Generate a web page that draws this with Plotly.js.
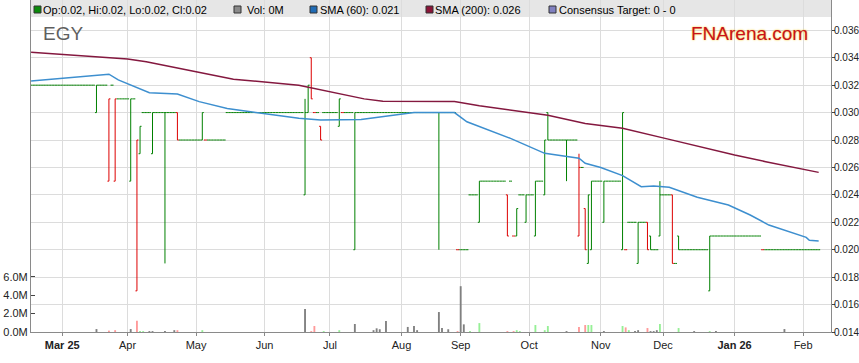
<!DOCTYPE html>
<html>
<head>
<meta charset="utf-8">
<script src="https://cdn.plot.ly/plotly-3.0.1.min.js"></script>
<style>html,body{margin:0;padding:0;background:#fff;}#chart{width:859px;height:363px;}</style>
</head>
<body>
<div id="chart"></div>
<script>
// Trading-day categories (weekdays as listed by the source)
const dates = [
 '2025-02-17','2025-02-18','2025-02-19','2025-02-20','2025-02-21','2025-02-24','2025-02-25','2025-02-26','2025-02-27','2025-02-28',
 '2025-03-03','2025-03-04','2025-03-05','2025-03-06','2025-03-07','2025-03-10','2025-03-11','2025-03-12','2025-03-13','2025-03-14',
 '2025-03-17','2025-03-18','2025-03-19','2025-03-20','2025-03-21','2025-03-24','2025-03-25','2025-03-26','2025-03-27','2025-03-28',
 '2025-03-31','2025-04-01','2025-04-02','2025-04-03','2025-04-04','2025-04-07','2025-04-08','2025-04-09','2025-04-10','2025-04-11',
 '2025-04-14','2025-04-15','2025-04-16','2025-04-17','2025-04-18','2025-04-21','2025-04-22','2025-04-23','2025-04-24','2025-04-25',
 '2025-04-28','2025-04-29','2025-04-30','2025-05-01','2025-05-02','2025-05-05','2025-05-06','2025-05-07','2025-05-08','2025-05-09',
 '2025-05-12','2025-05-13','2025-05-14','2025-05-15','2025-05-16','2025-05-19','2025-05-20','2025-05-21','2025-05-22','2025-05-23',
 '2025-05-26','2025-05-27','2025-05-28','2025-05-29','2025-05-30','2025-06-02','2025-06-03','2025-06-04','2025-06-05','2025-06-06',
 '2025-06-09','2025-06-10','2025-06-11','2025-06-12','2025-06-13','2025-06-16','2025-06-17','2025-06-18','2025-06-19','2025-06-20',
 '2025-06-23','2025-06-24','2025-06-25','2025-06-26','2025-06-27','2025-06-30','2025-07-01','2025-07-02','2025-07-03','2025-07-04',
 '2025-07-07','2025-07-08','2025-07-09','2025-07-10','2025-07-11','2025-07-14','2025-07-15','2025-07-16','2025-07-17','2025-07-18',
 '2025-07-21','2025-07-22','2025-07-23','2025-07-24','2025-07-25','2025-07-28','2025-07-29','2025-07-30','2025-07-31','2025-08-01',
 '2025-08-04','2025-08-05','2025-08-06','2025-08-07','2025-08-08','2025-08-11','2025-08-12','2025-08-13','2025-08-14','2025-08-15',
 '2025-08-18','2025-08-19','2025-08-20','2025-08-21','2025-08-22','2025-08-27','2025-08-28','2025-08-29','2025-09-01','2025-09-02',
 '2025-09-03','2025-09-04','2025-09-05','2025-09-08','2025-09-09','2025-09-10','2025-09-11','2025-09-12','2025-09-15','2025-09-16',
 '2025-09-17','2025-09-18','2025-09-19','2025-09-22','2025-09-23','2025-09-24','2025-09-25','2025-09-26','2025-09-29','2025-09-30',
 '2025-10-01','2025-10-02','2025-10-03','2025-10-06','2025-10-07','2025-10-08','2025-10-09','2025-10-10','2025-10-13','2025-10-14',
 '2025-10-15','2025-10-16','2025-10-17','2025-10-20','2025-10-21','2025-10-22','2025-10-23','2025-10-24','2025-10-27','2025-10-28',
 '2025-10-29','2025-10-30','2025-10-31','2025-11-03','2025-11-04','2025-11-05','2025-11-06','2025-11-07','2025-11-10','2025-11-11',
 '2025-11-12','2025-11-13','2025-11-14','2025-11-17','2025-11-18','2025-11-19','2025-11-20','2025-11-21','2025-11-24','2025-11-25',
 '2025-11-26','2025-11-27','2025-11-28','2025-12-01','2025-12-02','2025-12-03','2025-12-04','2025-12-05','2025-12-08','2025-12-09',
 '2025-12-10','2025-12-11','2025-12-12','2025-12-15','2025-12-16','2025-12-17','2025-12-18','2025-12-19','2025-12-22','2025-12-23',
 '2025-12-24','2025-12-25','2025-12-26','2025-12-29','2025-12-30','2025-12-31','2026-01-01','2026-01-02','2026-01-05','2026-01-06',
 '2026-01-07','2026-01-08','2026-01-09','2026-01-12','2026-01-13','2026-01-14','2026-01-15','2026-01-16','2026-01-19','2026-01-20',
 '2026-01-21','2026-01-22','2026-01-23','2026-01-26','2026-01-27','2026-01-28','2026-01-29','2026-01-30','2026-02-02','2026-02-03',
 '2026-02-04','2026-02-05','2026-02-06','2026-02-09'
];

const open = [
 .032,.032,.032,.032,.032,.032,.032,.032,.032,.032,
 .032,.032,.032,.032,.032,.032,.032,.032,.032,.032,
 .032,.030,.032,.032,.032,.025,.032,.025,.031,.031,
 .031,.031,.025,.031,.017,.027,.030,.030,.030,.027,
 .030,.030,.030,.030,.030,.030,.030,.030,.028,.028,
 .028,.028,.028,.028,.028,.028,.028,.028,.028,.028,
 .028,.028,.028,.030,.030,.030,.030,.030,.030,.030,
 .030,.030,.030,.030,.030,.030,.030,.030,.030,.030,
 .030,.030,.030,.030,.030,.030,.030,.030,.024,.030,
 .034,.030,.030,.029,.030,.030,.030,.030,.030,.029,
 .030,.030,.030,.030,.020,.030,.030,.030,.030,.030,
 .030,.030,.030,.030,.030,.030,.030,.030,.030,.030,
 .030,.030,.030,.030,.030,.030,.030,.030,.030,.030,
 .030,.030,.030,.030,.030,.030,.030,.020,.020,.020,
 .020,.024,.024,.024,.022,.025,.025,.025,.025,.025,
 .025,.025,.025,.024,.025,.021,.021,.024,.024,.022,
 .024,.024,.021,.025,.025,.024,.030,.028,.028,.028,
 .028,.028,.028,.028,.028,.028,.021,.026,.023,.019,
 .020,.025,.025,.025,.022,.025,.025,.025,.025,.025,
 .020,.020,.022,.022,.022,.019,.022,.022,.022,.021,
 .020,.020,.021,.024,.024,.024,.024,.019,.021,.020,
 .020,.020,.020,.020,.020,.020,.020,.020,.017,.021,
 .021,.021,.021,.021,.021,.021,.021,.021,.021,.021,
 .021,.021,.021,.021,.021,.020,.020,.020,.020,.020,
 .020,.020,.020,.020,.020,.020,.020,.020,.020,.020,
 .020,.020,.020,.020
];
const high = [
 .032,.032,.032,.032,.032,.032,.032,.032,.032,.032,
 .032,.032,.032,.032,.032,.032,.032,.032,.032,.032,
 .032,.032,.032,.032,.032,.031,.032,.031,.031,.031,
 .031,.031,.031,.031,.028,.029,.030,.030,.030,.030,
 .030,.030,.030,.030,.030,.030,.030,.030,.028,.028,
 .028,.028,.028,.028,.028,.030,.028,.028,.028,.028,
 .028,.028,.028,.030,.030,.030,.030,.030,.030,.030,
 .030,.030,.030,.030,.030,.030,.030,.030,.030,.030,
 .030,.030,.030,.030,.030,.030,.030,.030,.031,.032,
 .034,.030,.030,.029,.030,.030,.030,.030,.030,.031,
 .030,.030,.030,.030,.030,.030,.030,.030,.030,.030,
 .030,.030,.030,.030,.030,.030,.030,.030,.030,.030,
 .030,.030,.030,.030,.030,.030,.030,.030,.030,.030,
 .030,.030,.030,.030,.030,.030,.030,.020,.020,.020,
 .020,.024,.024,.024,.025,.025,.025,.025,.025,.025,
 .025,.025,.025,.024,.025,.021,.023,.024,.024,.024,
 .024,.024,.025,.025,.025,.028,.030,.028,.028,.028,
 .028,.028,.028,.028,.028,.028,.027,.026,.023,.024,
 .025,.025,.025,.025,.025,.025,.025,.025,.025,.025,
 .030,.020,.022,.022,.022,.022,.022,.022,.022,.021,
 .020,.020,.025,.024,.024,.024,.024,.019,.021,.020,
 .020,.020,.020,.020,.020,.020,.020,.020,.021,.021,
 .021,.021,.021,.021,.021,.021,.021,.021,.021,.021,
 .021,.021,.021,.021,.021,.020,.020,.020,.020,.020,
 .020,.020,.020,.020,.020,.020,.020,.020,.020,.020,
 .020,.020,.020,.020
];
const low = [
 .032,.032,.032,.032,.032,.032,.032,.032,.032,.032,
 .032,.032,.032,.032,.032,.032,.032,.032,.032,.032,
 .032,.030,.032,.032,.032,.025,.032,.025,.031,.031,
 .031,.031,.025,.031,.017,.027,.030,.030,.030,.027,
 .030,.030,.030,.019,.030,.030,.030,.028,.028,.028,
 .028,.028,.028,.028,.028,.028,.028,.028,.028,.028,
 .028,.028,.028,.030,.030,.030,.030,.030,.030,.030,
 .030,.030,.030,.030,.030,.030,.030,.030,.030,.030,
 .030,.030,.030,.030,.030,.030,.030,.030,.024,.030,
 .031,.030,.030,.028,.030,.030,.030,.030,.030,.029,
 .030,.030,.030,.030,.020,.030,.030,.030,.030,.030,
 .030,.030,.030,.030,.030,.030,.030,.030,.030,.030,
 .030,.030,.030,.030,.030,.030,.030,.030,.030,.030,
 .030,.020,.030,.030,.030,.030,.030,.020,.020,.020,
 .020,.024,.024,.024,.022,.025,.025,.025,.025,.025,
 .025,.025,.025,.021,.025,.021,.021,.024,.024,.022,
 .024,.024,.021,.025,.025,.024,.028,.028,.028,.028,
 .028,.028,.025,.028,.028,.028,.021,.026,.020,.019,
 .020,.025,.025,.025,.022,.025,.025,.025,.025,.025,
 .020,.020,.022,.022,.022,.019,.022,.022,.020,.020,
 .020,.020,.021,.024,.024,.024,.019,.019,.020,.020,
 .020,.020,.020,.020,.020,.020,.020,.020,.017,.021,
 .021,.021,.021,.021,.021,.021,.021,.021,.021,.021,
 .021,.021,.021,.021,.021,.020,.020,.020,.020,.020,
 .020,.020,.020,.020,.020,.020,.020,.020,.020,.020,
 .020,.020,.020,.020
];
const close = [
 .032,.032,.032,.032,.032,.032,.032,.032,.032,.032,
 .032,.032,.032,.032,.032,.032,.032,.032,.032,.032,
 .032,.032,.032,.032,.032,.031,.032,.031,.031,.031,
 .031,.031,.031,.031,.028,.029,.030,.030,.030,.030,
 .030,.030,.030,.030,.030,.030,.030,.028,.028,.028,
 .028,.028,.028,.028,.028,.030,.028,.028,.028,.028,
 .028,.028,.028,.030,.030,.030,.030,.030,.030,.030,
 .030,.030,.030,.030,.030,.030,.030,.030,.030,.030,
 .030,.030,.030,.030,.030,.030,.030,.030,.030,.032,
 .031,.030,.030,.028,.030,.030,.030,.030,.030,.031,
 .030,.030,.030,.030,.030,.030,.030,.030,.030,.030,
 .030,.030,.030,.030,.030,.030,.030,.030,.030,.030,
 .030,.030,.030,.030,.030,.030,.030,.030,.030,.030,
 .030,.030,.030,.030,.030,.030,.030,.020,.020,.020,
 .020,.024,.024,.024,.025,.025,.025,.025,.025,.025,
 .025,.025,.025,.021,.025,.021,.023,.024,.024,.024,
 .024,.024,.025,.025,.025,.028,.028,.028,.028,.028,
 .028,.028,.028,.028,.028,.028,.026,.026,.020,.024,
 .025,.025,.025,.025,.025,.025,.025,.025,.025,.025,
 .030,.020,.022,.022,.022,.022,.022,.022,.020,.020,
 .020,.020,.024,.024,.024,.024,.019,.019,.020,.020,
 .020,.020,.020,.020,.020,.020,.020,.020,.021,.021,
 .021,.021,.021,.021,.021,.021,.021,.021,.021,.021,
 .021,.021,.021,.021,.021,.020,.020,.020,.020,.020,
 .020,.020,.020,.020,.020,.020,.020,.020,.020,.020,
 .020,.020,.020,.020
];

// Volume (shares) on traded days, grouped by close vs previous close
const volUpDates = ['2025-04-07','2025-04-08','2025-05-05','2025-06-27','2025-07-04','2025-09-04','2025-09-09','2025-09-25','2025-09-26','2025-10-03','2025-10-08','2025-10-09','2025-10-28','2025-10-29','2025-11-12','2025-11-14','2025-11-28','2025-12-08','2025-12-22'];
const volUp = [0.10e6,0.10e6,0.20e6,0.10e6,0.20e6,0.10e6,0.97e6,0.20e6,0.10e6,0.76e6,0.20e6,0.65e6,0.76e6,0.76e6,0.65e6,0.20e6,0.87e6,0.43e6,0.10e6];
const volDownDates = ['2025-03-24','2025-03-26','2025-04-04','2025-04-23','2025-06-23','2025-06-24','2025-08-29','2025-09-22','2025-09-24','2025-10-23','2025-10-27','2025-11-13','2025-11-24'];
const volDown = [0.15e6,0.20e6,1.23e6,0.20e6,0.10e6,0.65e6,0.10e6,0.10e6,0.10e6,0.54e6,0.76e6,0.50e6,0.43e6];
const volFlatDates = ['2025-03-18','2025-04-02','2025-04-10','2025-04-11','2025-04-17','2025-04-22','2025-06-19','2025-07-11','2025-07-21','2025-07-22','2025-07-23','2025-07-25','2025-08-05','2025-08-07','2025-08-08','2025-08-19','2025-08-20','2025-08-22','2025-09-01','2025-09-02','2025-10-17','2025-11-04','2025-11-18','2025-11-19','2025-11-25','2025-11-26','2025-11-27','2025-12-15','2025-12-24','2026-01-23'];
const volFlat = [0.32e6,0.32e6,0.10e6,0.10e6,0.10e6,0.20e6,2.50e6,0.87e6,0.20e6,0.40e6,0.30e6,1.20e6,0.55e6,0.65e6,0.20e6,2.17e6,0.43e6,0.30e6,4.98e6,0.83e6,0.10e6,0.10e6,0.10e6,0.20e6,0.10e6,0.10e6,0.20e6,0.10e6,0.10e6,0.32e6];

// Moving averages
const sma60Dates = ['2025-02-17','2025-03-24','2025-03-27','2025-04-10','2025-04-23','2025-05-02','2025-05-15','2025-06-03','2025-06-17','2025-06-26','2025-07-15','2025-08-07','2025-08-28','2025-09-03','2025-09-23','2025-10-08','2025-10-23','2025-10-27','2025-11-03','2025-11-12','2025-11-20','2025-11-26','2025-12-03','2025-12-16','2025-12-30','2026-01-08','2026-01-16','2026-02-03','2026-02-04','2026-02-09'];
const sma60 = [.0323,.0328,.03238,.03145,.03135,.0308,.0303,.0299,.02958,.02946,.0295,.0300,.0300,.02933,.02812,.02703,.02667,.0263,.0260,.0254,.0246,.02465,.02455,.02382,.02326,.02253,.0218,.0209,.02069,.02064];
const sma200Dates = ['2025-02-17','2025-04-01','2025-04-09','2025-05-01','2025-05-19','2025-06-17','2025-06-23','2025-07-16','2025-07-24','2025-08-28','2025-09-09','2025-10-09','2025-10-27','2025-11-12','2025-12-02','2026-01-01','2026-01-15','2026-02-09'];
const sma200 = [.0344,.0339,.0337,.0330,.03243,.0320,.0318,.0310,.03082,.0308,.0305,.0298,.0292,.02885,.0281,.0269,.02642,.02564];

const consensusTarget = [0, 0];

const monthTickDates = ['2025-03-03','2025-04-01','2025-05-01','2025-06-02','2025-07-01','2025-08-01','2025-09-01','2025-10-01','2025-11-03','2025-12-01','2026-01-01','2026-02-02'];
const monthTickText = ['<b>Mar 25</b>','Apr','May','Jun','Jul','Aug','Sep','Oct','Nov','Dec','<b>Jan 26</b>','Feb'];
const priceTicks = [0.014,0.016,0.018,0.020,0.022,0.024,0.026,0.028,0.030,0.032,0.034,0.036];
const volTicks = [0, 2e6, 4e6, 6e6];

// ---- build ----
const GREEN = '#008000', RED = '#dd0000';
const up = {x:[],o:[],h:[],l:[],c:[]}, dn = {x:[],o:[],h:[],l:[],c:[]};
for (let i = 0; i < dates.length; i++) {
  const t = (i > 0 && close[i] < close[i-1]) ? dn : up;
  t.x.push(dates[i]); t.o.push(open[i]); t.h.push(high[i]); t.l.push(low[i]); t.c.push(close[i]);
}
function ohlcTrace(s, col) {
  return {type:'ohlc', x:s.x, open:s.o, high:s.h, low:s.l, close:s.c, xaxis:'x', yaxis:'y2',
    tickwidth:0.48, line:{width:1}, hoverinfo:'skip',
    increasing:{line:{color:col, width:1}}, decreasing:{line:{color:col, width:1}}};
}
function volTrace(x, y, col) {
  return {type:'bar', x:x, y:y, xaxis:'x', yaxis:'y', width:0.6, marker:{color:col, line:{width:0}}, hoverinfo:'skip'};
}
const traces = [
  {type:'scatter', mode:'none', x:dates, y:close, xaxis:'x', yaxis:'y2', hoverinfo:'skip'},
  volTrace(volFlatDates, volFlat, '#808080'),
  volTrace(volDownDates, volDown, '#ff9a9a'),
  volTrace(volUpDates, volUp, '#96f096'),
  ohlcTrace(up, GREEN),
  ohlcTrace(dn, RED),
  {type:'scatter', mode:'lines', x:sma200Dates, y:sma200, xaxis:'x', yaxis:'y2', line:{color:'#84183f', width:1.5}, hoverinfo:'skip'},
  {type:'scatter', mode:'lines', x:sma60Dates, y:sma60, xaxis:'x', yaxis:'y2', line:{color:'#3d8fcf', width:1.5}, hoverinfo:'skip'}
];

const L = dates.length - 1;
const fmt = v => String(+v.toFixed(3));
const lastVol = 0;
const legendItems = [
  {sq:[34,41], tx:41, col:'#0a8a0a', text:'Op:' + fmt(open[L]) + ', Hi:' + fmt(high[L]) + ', Lo:' + fmt(low[L]) + ', Cl:' + fmt(close[L])},
  {sq:[234,241], tx:245, col:'#8a8a8a', text:'Vol: ' + (lastVol/1e6) + 'M'},
  {sq:[310,317], tx:318, col:'#1f6bb5', text:'SMA (60): ' + sma60[sma60.length-1].toFixed(3)},
  {sq:[426,433], tx:433, col:'#8b1538', text:'SMA (200): ' + sma200[sma200.length-1].toFixed(3)},
  {sq:[549,556], tx:557, col:'#8080c0', text:'Consensus Target: ' + consensusTarget[0] + ' - ' + consensusTarget[1]}
];
const PW = 800, PH = 332, PL = 31;
const px = v => (v - PL) / PW;
const py = v => 1 - v / PH;

const shapes = [
  {type:'rect', xref:'paper', yref:'paper', x0:0, x1:1, y0:py(17), y1:1, fillcolor:'#e6e6e6', line:{width:0}, layer:'below'}
];
const annotations = [];
legendItems.forEach(it => {
  shapes.push({type:'rect', xref:'paper', yref:'paper', x0:px(it.sq[0]), x1:px(it.sq[1]), y0:py(13), y1:py(6),
    fillcolor:it.col, line:{color:'#333', width:1}, layer:'above'});
  annotations.push({xref:'paper', yref:'paper', x:px(it.tx), y:py(9.5), xanchor:'left', yanchor:'middle',
    showarrow:false, text:it.text, font:{size:11, color:'#000'}});
});
annotations.push({xref:'paper', yref:'paper', x:px(41), y:py(33), xanchor:'left', yanchor:'middle',
  showarrow:false, text:'EGY', font:{size:19, color:'#5f5f5f'}});
annotations.push({xref:'paper', yref:'paper', x:px(689), y:py(33.5), xanchor:'left', yanchor:'middle',
  showarrow:false, text:'FNArena.com', font:{size:19, color:'#c8101e', shadow:'0px 0px 2px #f2c200'}});

const layout = {
  width:859, height:363,
  margin:{l:31, r:28, t:0, b:31, pad:0},
  paper_bgcolor:'#ffffff', plot_bgcolor:'#ffffff',
  showlegend:false, hovermode:false, barmode:'overlay',
  font:{family:'"Liberation Sans", Arial, sans-serif', size:11, color:'#222'},
  xaxis:{type:'category', categoryorder:'array', categoryarray:dates,
    range:[-0.032, 256.96], tickmode:'array', tickvals:monthTickDates, ticktext:monthTickText,
    showgrid:true, gridcolor:'#dcdcdc', gridwidth:1, ticks:'outside', ticklen:3, tickcolor:'#888',
    showline:true, linecolor:'#8a8a8a', linewidth:1, zeroline:false, tickangle:0,
    tickfont:{size:11, color:'#222'}, rangeslider:{visible:false}, fixedrange:true},
  yaxis:{range:[0, 36.09e6], tickmode:'array', tickvals:volTicks,
    ticktext:volTicks.map(v => (v/1e6).toFixed(1) + 'M'),
    showgrid:false, zeroline:false, ticks:'inside', ticklen:4, tickcolor:'#444',
    showline:true, linecolor:'#8a8a8a', linewidth:1, side:'left', tickfont:{size:11, color:'#222'}, fixedrange:true},
  yaxis2:{overlaying:'y', side:'right', range:[0.014, 0.03821], tickmode:'array', tickvals:priceTicks,
    tickformat:'.3f', showgrid:true, gridcolor:'#dcdcdc', gridwidth:1, ticks:'outside', ticklen:3, tickcolor:'#444',
    ticklabelstandoff:-3,
    showline:true, linecolor:'#8a8a8a', linewidth:1, zeroline:false, tickfont:{size:10, color:'#222'}, fixedrange:true},
  shapes:shapes,
  annotations:annotations
};

Plotly.newPlot('chart', traces, layout, {staticPlot:true, displayModeBar:false});
</script>
</body>
</html>
